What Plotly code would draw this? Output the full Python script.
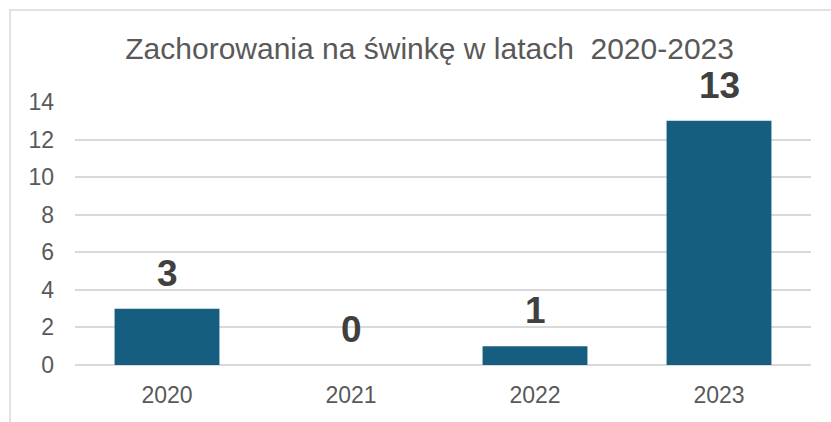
import plotly.graph_objects as go

years = ["2020", "2021", "2022", "2023"]
cases = [3, 0, 1, 13]
y_ticks = [0, 2, 4, 6, 8, 10, 12, 14]
title_text = "Zachorowania na świnkę w latach  2020-2023"

W, H = 831, 422
L, R, T, B = 75, 20, 102, 57
pw, ph = W - L - R, H - T - B

fig = go.Figure()
fig.add_trace(go.Bar(
    x=years, y=cases,
    marker=dict(color="#165e80", line=dict(width=0)),
    hoverinfo="skip",
))

# value labels above bars (x given as category index on the category axis)
for i, v in enumerate(cases):
    fig.add_annotation(
        x=i, y=v, xref="x", yref="y", text=f"<b>{v}</b>", showarrow=False,
        yanchor="bottom", yshift=13,
        font=dict(family="Liberation Sans, Arial, sans-serif", size=37, color="#404040"),
    )

# chart-area border (partially visible at left/top)
fig.add_shape(
    type="rect", xref="paper", yref="paper",
    x0=(10 - L) / pw, x1=1.5,
    y0=-1, y1=1 + (T - 10) / ph,
    line=dict(color="#d9d9d9", width=1.5), fillcolor="rgba(0,0,0,0)", layer="below",
)

fig.update_layout(
    width=W, height=H,
    margin=dict(l=L, r=R, t=T, b=B, pad=0, autoexpand=False),
    paper_bgcolor="white", plot_bgcolor="white",
    showlegend=False,
    bargap=0.43,
    title=dict(
        text=title_text, x=0.517, xanchor="center", y=(H - 48) / H, yanchor="middle",
        font=dict(family="Liberation Sans, Arial, sans-serif", size=30, color="#595959"),
    ),
    font=dict(family="Liberation Sans, Arial, sans-serif"),
)
fig.update_xaxes(
    type="category", categoryorder="array", categoryarray=years,
    range=[-0.5, len(years) - 0.5], autorange=False, automargin=False,
    showgrid=False, showline=False, zeroline=False, ticks="",
    tickfont=dict(size=23, color="#595959"),
    ticklabelstandoff=14,
)
fig.update_yaxes(
    automargin=False,
    range=[0, 14], autorange=False, tickvals=y_ticks, ticktext=[str(t) for t in y_ticks],
    showgrid=True, gridcolor="#d9d9d9", gridwidth=1.5,
    zeroline=True, zerolinecolor="#d9d9d9", zerolinewidth=1.5,
    showline=False, ticks="",
    tickfont=dict(size=23, color="#595959"),
    ticklabelstandoff=20,
)

fig.write_html("out.html", config={"displayModeBar": False},
               post_script="document.body.style.margin='0';")
